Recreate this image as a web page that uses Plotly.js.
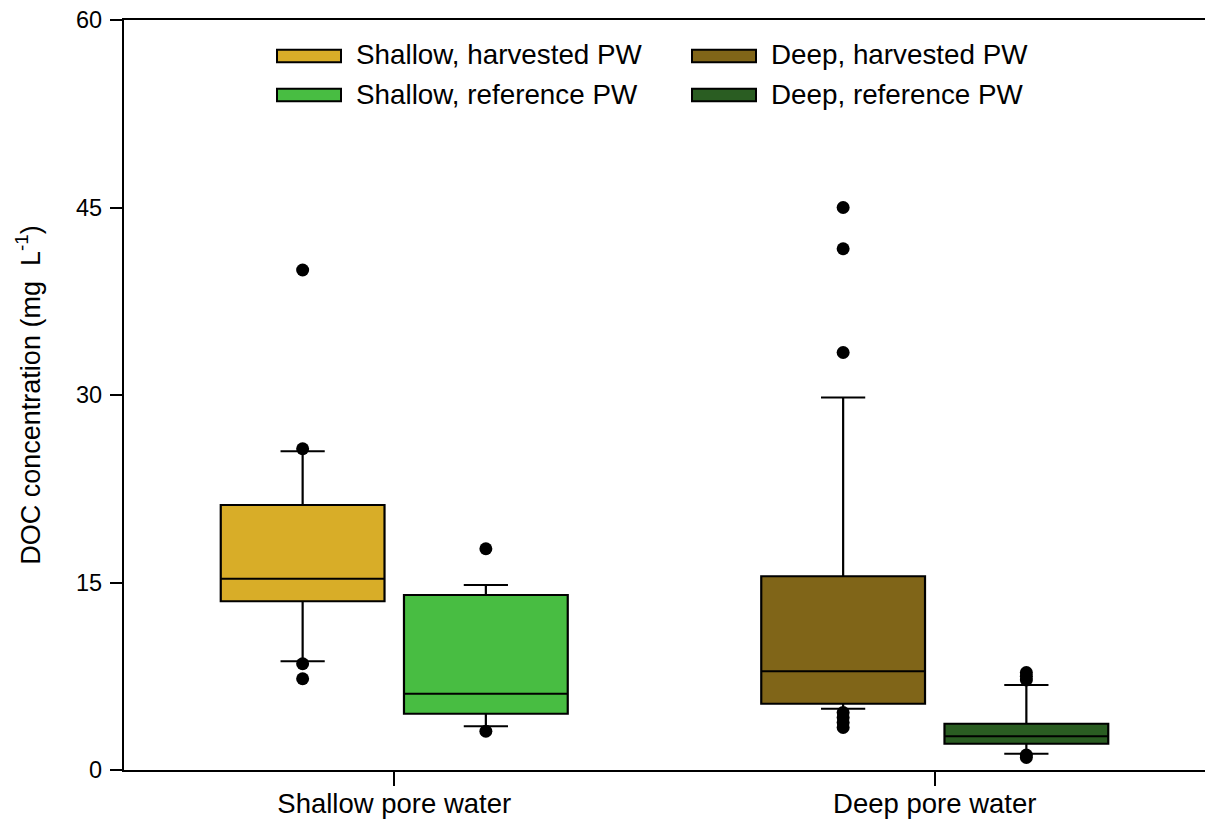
<!DOCTYPE html>
<html>
<head>
<meta charset="utf-8">
<script src="https://cdn.plot.ly/plotly-3.0.1.min.js"></script>
<style>
  html, body { margin: 0; padding: 0; background: #ffffff; }
  #chart { width: 1206px; height: 823px; }
</style>
</head>
<body>
<div id="chart"></div>
<script>
// DOC concentration in pore water: harvested vs reference sites, shallow and deep
const categories = ['Shallow pore water', 'Deep pore water'];

const seriesNames = ['Shallow, harvested PW', 'Deep, harvested PW', 'Shallow, reference PW', 'Deep, reference PW'];
const seriesCategory = [0, 1, 0, 1];      // index into categories
const seriesTreatment = ['harvested', 'harvested', 'reference', 'reference'];

// box statistics (mg L-1)
const lowerWhisker = [8.7, 4.9, 3.5, 1.3];
const q1Vals       = [13.5, 5.3, 4.5, 2.1];
const medianVals   = [15.3, 7.9, 6.1, 2.7];
const q3Vals       = [21.2, 15.5, 14.0, 3.7];
const upperWhisker = [25.5, 29.8, 14.8, 6.8];

// outlying observations
const outliers = [
  [40.0, 25.7, 8.5, 7.3],
  [45.0, 41.7, 33.4, 4.6, 4.2, 3.8, 3.4],
  [17.7, 3.1],
  [7.8, 7.5, 7.2, 1.2, 1.0]
];

const fillColors = ['#D8AD28', '#806518', '#48BD42', '#2A5D22'];

// layout of the boxes within each category slot (data units)
const SIDE_OFFSET = 0.1695;
const BOX_WIDTH = 0.303;
const sideSign = { harvested: -1, reference: 1 };

const FONT = 'Liberation Sans, Arial, Helvetica, sans-serif';

const traces = [];
seriesNames.forEach((name, i) => {
  const xPos = seriesCategory[i] + sideSign[seriesTreatment[i]] * SIDE_OFFSET;
  traces.push({
    type: 'box',
    name: name,
    x: [xPos],
    lowerfence: [lowerWhisker[i]],
    q1: [q1Vals[i]],
    median: [medianVals[i]],
    q3: [q3Vals[i]],
    upperfence: [upperWhisker[i]],
    width: BOX_WIDTH,
    whiskerwidth: 0.27,
    fillcolor: fillColors[i],
    line: { color: '#000000', width: 2.2 },
    boxpoints: false,
    showlegend: false,
    hoverinfo: 'skip'
  });
  traces.push({
    type: 'scatter',
    mode: 'markers',
    x: outliers[i].map(() => xPos),
    y: outliers[i],
    marker: { color: '#000000', size: 13, line: { width: 0 } },
    showlegend: false,
    hoverinfo: 'skip'
  });
});

// legend drawn as swatches + labels (two columns, two rows)
const plotLeft = 124, plotRight = 1205, plotTop = 20, plotBottom = 770;
const px2x = px => (px - plotLeft) / (plotRight - plotLeft);
const px2y = py => (plotBottom - py) / (plotBottom - plotTop);

const legendCols = [277, 692];
const legendRows = [56, 95];
const shapes = [];
const annotations = [];
seriesNames.forEach((name, i) => {
  const col = seriesCategory[i];
  const row = seriesTreatment[i] === 'harvested' ? 0 : 1;
  const x0 = legendCols[col], cy = legendRows[row];
  shapes.push({
    type: 'rect', xref: 'paper', yref: 'paper',
    x0: px2x(x0), x1: px2x(x0 + 64),
    y0: px2y(cy + 6.3), y1: px2y(cy - 6.3),
    fillcolor: fillColors[i],
    line: { color: '#000000', width: 2 }
  });
  annotations.push({
    xref: 'paper', yref: 'paper',
    x: px2x(x0 + 77), y: px2y(cy - 1),
    xanchor: 'left', yanchor: 'middle',
    text: name, showarrow: false,
    font: { family: FONT, size: 27.8, color: '#000000' }
  });
});

const layout = {
  width: 1206,
  height: 823,
  margin: { l: 124, r: 1, t: 20, b: 53 },
  paper_bgcolor: '#ffffff',
  plot_bgcolor: '#ffffff',
  showlegend: false,
  boxmode: 'overlay',
  font: { family: FONT, color: '#000000' },
  xaxis: {
    range: [-0.5, 1.5],
    tickmode: 'array',
    tickvals: [0, 1],
    ticktext: categories,
    showgrid: false,
    zeroline: false,
    showline: true,
    linecolor: '#000000',
    linewidth: 2.2,
    mirror: true,
    ticks: 'outside',
    ticklen: 14,
    tickwidth: 2,
    tickcolor: '#000000',
    ticklabelstandoff: -6,
    tickfont: { family: FONT, size: 27.5, color: '#000000' }
  },
  yaxis: {
    range: [0, 60],
    tickmode: 'array',
    tickvals: [0, 15, 30, 45, 60],
    showgrid: false,
    zeroline: false,
    showline: true,
    linecolor: '#000000',
    linewidth: 2.2,
    ticks: 'outside',
    ticklen: 12,
    tickwidth: 2,
    tickcolor: '#000000',
    ticklabelstandoff: 3,
    tickfont: { family: FONT, size: 23.5, color: '#000000' },
    title: {
      text: 'DOC concentration (mg\u00a0 L<sup>-1</sup>)',
      font: { family: FONT, size: 27, color: '#000000' },
      standoff: 28
    }
  },
  shapes: shapes,
  annotations: annotations
};

Plotly.newPlot('chart', traces, layout, { staticPlot: true, displayModeBar: false });
</script>
</body>
</html>
